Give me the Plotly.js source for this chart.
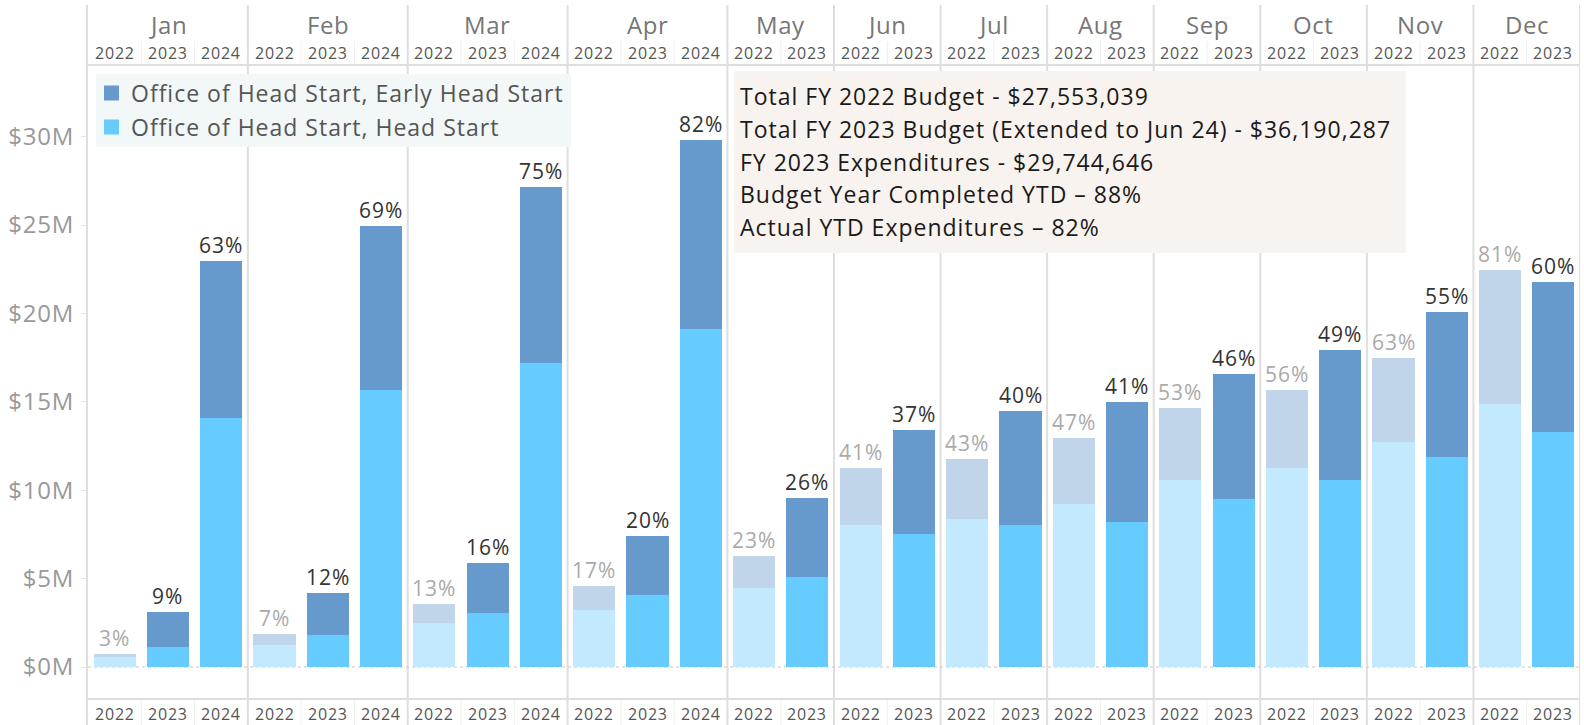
<!DOCTYPE html>
<html>
<head>
<meta charset="utf-8">
<script src="https://cdn.plot.ly/plotly-3.0.1.min.js"></script>
<style>
  html, body { margin: 0; padding: 0; background: #ffffff; }
  #chart { width: 1584px; height: 725px; }
  /* widen glyph spacing a little to mimic the wider original typeface */
  text.annotation-text[style*="font-size: 23px"] { letter-spacing: 1px; }
  text.annotation-text[style*="font-size: 21px"] { letter-spacing: 1px; }
  text.annotation-text[style*="font-size: 16px"] { letter-spacing: 0.8px; }
  text.annotation-text[style*="font-size: 24px"] { letter-spacing: 0.6px; }
  .ytick text { letter-spacing: 0.8px; }
</style>
</head>
<body>
<div id="chart"></div>
<script>
// ---------------- DATA ----------------
const months = ['Jan','Feb','Mar','Apr','May','Jun','Jul','Aug','Sep','Oct','Nov','Dec'];
// month of each bar slot
const slotMonth = ['Jan','Jan','Jan','Feb','Feb','Feb','Mar','Mar','Mar','Apr','Apr','Apr',
                   'May','May','Jun','Jun','Jul','Jul','Aug','Aug','Sep','Sep','Oct','Oct',
                   'Nov','Nov','Dec','Dec'];
// year of each bar slot
const slotYear = ['2022','2023','2024','2022','2023','2024','2022','2023','2024','2022','2023','2024',
                  '2022','2023','2022','2023','2022','2023','2022','2023','2022','2023','2022','2023',
                  '2022','2023','2022','2023'];
// Office of Head Start, Head Start (millions of $)
const headStart = [0.55,1.11,14.07, 1.26,1.79,15.67, 2.49,3.05,17.19, 3.24,4.09,19.12,
                   4.49,5.09, 8.05,7.52, 8.39,8.05, 9.22,8.22, 10.59,9.48, 11.26,10.59,
                   12.71,11.86, 14.89,13.29];
// Office of Head Start, Early Head Start (millions of $)
const earlyHeadStart = [0.19,2.02,8.89, 0.59,2.40,9.26, 1.06,2.83,9.97, 1.36,3.34,10.67,
                        1.81,4.45, 3.21,5.87, 3.37,6.45, 3.73,6.75, 4.06,7.07, 4.39,7.34,
                        4.75,8.20, 7.55,8.50];
// cumulative share of budget spent (%)
const pctSpent = [3,9,63, 7,12,69, 13,16,75, 17,20,82, 23,26, 41,37, 43,40, 47,41, 53,46, 56,49, 63,55, 81,60];

const yTicks = [0,5,10,15,20,25,30];
const yTickText = ['$0M','$5M','$10M','$15M','$20M','$25M','$30M'];

const legendNames = ['Office of Head Start, Early Head Start','Office of Head Start, Head Start'];
const infoLines = [
  'Total FY 2022 Budget - $27,553,039',
  'Total FY 2023 Budget (Extended to Jun 24) - $36,190,287',
  'FY 2023 Expenditures - $29,744,646',
  'Budget Year Completed YTD \u2013 88%',
  'Actual YTD Expenditures \u2013 82%'
];

// ---------------- STYLE ----------------
const W = 1584, H = 725;
const M = {l: 88, r: 4, t: 65, b: 26};
const PW = W - M.l - M.r, PH = H - M.t - M.b;
const px = x => (x - M.l) / PW;          // pixel -> paper x
const py = y => (H - M.b - y) / PH;      // pixel -> paper y
const FONT = 'Open Sans, Noto Sans, sans-serif';

const C_EHS = '#6699cc', C_HS = '#66ccff';
const C_EHS_OLD = '#c0d4ea', C_HS_OLD = '#c2e9fd';
const GRID = '#dedede';

const idx = slotYear.map((_, i) => i);
const isOld = i => slotYear[i] === '2022';

function sel(arr, old) { return idx.map(i => (isOld(i) === old ? arr[i] : null)); }

const barW = 0.79;
const traces = [
  {type: 'bar', x: idx, y: sel(headStart, true), marker: {color: C_HS_OLD}, width: barW, hoverinfo: 'skip', showlegend: false},
  {type: 'bar', x: idx, y: sel(headStart, false), marker: {color: C_HS}, width: barW, name: legendNames[1], showlegend: false},
  {type: 'bar', x: idx, y: sel(earlyHeadStart, true), marker: {color: C_EHS_OLD}, width: barW, hoverinfo: 'skip', showlegend: false},
  {type: 'bar', x: idx, y: sel(earlyHeadStart, false), marker: {color: C_EHS}, width: barW, name: legendNames[0], showlegend: false}
];

const annotations = [];
const shapes = [];

// percentage labels above bars
idx.forEach(i => {
  annotations.push({
    x: i, y: headStart[i] + earlyHeadStart[i], xref: 'x', yref: 'y',
    text: pctSpent[i] + '%', showarrow: false, yanchor: 'bottom', yshift: 0,
    font: {family: FONT, size: 21, color: isOld(i) ? '#aaaaaa' : '#333333'}
  });
  // year labels top and bottom
  annotations.push({x: i, y: 1, xref: 'x', yref: 'paper', yshift: 12, yanchor: 'middle',
    text: slotYear[i], showarrow: false, font: {family: FONT, size: 16, color: '#555555'}});
  annotations.push({x: i, y: 0, xref: 'x', yref: 'paper', yshift: -15, yanchor: 'middle',
    text: slotYear[i], showarrow: false, font: {family: FONT, size: 16, color: '#555555'}});
});

// month headers and dividers
months.forEach(m => {
  const slots = idx.filter(i => slotMonth[i] === m);
  const first = slots[0], last = slots[slots.length - 1];
  annotations.push({x: (first + last) / 2, y: 1, xref: 'x', yref: 'paper', yshift: 41, yanchor: 'middle',
    text: m, showarrow: false, font: {family: FONT, size: 24, color: '#777777'}});
  shapes.push({type: 'line', xref: 'x', yref: 'paper', x0: last + 0.5, x1: last + 0.5,
    y0: py(H), y1: py(5), line: {color: GRID, width: 2}, layer: 'below'});
  // faint separators between years in header/footer
  slots.slice(0, -1).forEach(s => {
    shapes.push({type: 'line', xref: 'x', yref: 'paper', x0: s + 0.5, x1: s + 0.5,
      y0: py(H), y1: py(H - M.b), line: {color: '#efefef', width: 1}});
    shapes.push({type: 'line', xref: 'x', yref: 'paper', x0: s + 0.5, x1: s + 0.5,
      y0: py(M.t), y1: py(M.t - 24), line: {color: '#efefef', width: 1}});
  });
});

// left axis line, header/footer rules
shapes.push({type: 'line', xref: 'paper', yref: 'paper', x0: px(87), x1: px(87), y0: py(H), y1: py(5),
  line: {color: GRID, width: 2}});
shapes.push({type: 'line', xref: 'paper', yref: 'paper', x0: px(87), x1: 1, y0: 1, y1: 1,
  line: {color: GRID, width: 2}});
shapes.push({type: 'line', xref: 'paper', yref: 'paper', x0: px(87), x1: 1, y0: 0, y1: 0,
  line: {color: GRID, width: 2}});
// zero line (dotted)
shapes.push({type: 'line', xref: 'paper', yref: 'y', x0: 0, x1: 1, y0: 0, y1: 0,
  line: {color: '#c8c8c8', width: 1, dash: '3px,3px'}, layer: 'below'});

// legend box
shapes.push({type: 'rect', xref: 'paper', yref: 'paper', x0: px(96), x1: px(571), y0: py(147), y1: py(74),
  fillcolor: '#f2f7f7', line: {width: 0}});
[C_EHS, C_HS].forEach((c, k) => {
  const cy = 93 + k * 34;
  shapes.push({type: 'rect', xref: 'paper', yref: 'paper', x0: px(104), x1: px(119), y0: py(cy + 7.5), y1: py(cy - 7.5),
    fillcolor: c, line: {width: 0}});
  annotations.push({xref: 'paper', yref: 'paper', x: px(129), y: py(cy), xanchor: 'left', yanchor: 'middle', align: 'left',
    text: legendNames[k], showarrow: false, font: {family: FONT, size: 23, color: '#555555'}});
});

// info box
shapes.push({type: 'rect', xref: 'paper', yref: 'paper', x0: px(734), x1: px(1406), y0: py(253), y1: py(71),
  fillcolor: '#f9f3ef', line: {width: 0}});
infoLines.forEach((t, k) => {
  annotations.push({xref: 'paper', yref: 'paper', x: px(738), y: py(96 + k * 32.8), xanchor: 'left', yanchor: 'middle', align: 'left',
    text: t, showarrow: false, font: {family: FONT, size: 23, color: '#1a1a1a'}});
});

const layout = {
  width: W, height: H,
  margin: M,
  paper_bgcolor: '#ffffff', plot_bgcolor: '#ffffff',
  barmode: 'stack',
  showlegend: false,
  xaxis: {range: [-0.5, idx.length - 0.5], showticklabels: false, showgrid: false, zeroline: false, ticks: '', fixedrange: true},
  yaxis: {range: [-1.81, 34.05], tickvals: yTicks, ticktext: yTickText, showgrid: false, zeroline: false,
          ticks: 'outside', ticklen: 6, tickcolor: '#e6e6e6', tickwidth: 1,
          tickfont: {family: FONT, size: 24, color: '#999999'}, ticklabelstandoff: 2, fixedrange: true},
  annotations: annotations,
  shapes: shapes,
  font: {family: FONT}
};

Plotly.newPlot('chart', traces, layout, {displayModeBar: false, staticPlot: true});
</script>
</body>
</html>
